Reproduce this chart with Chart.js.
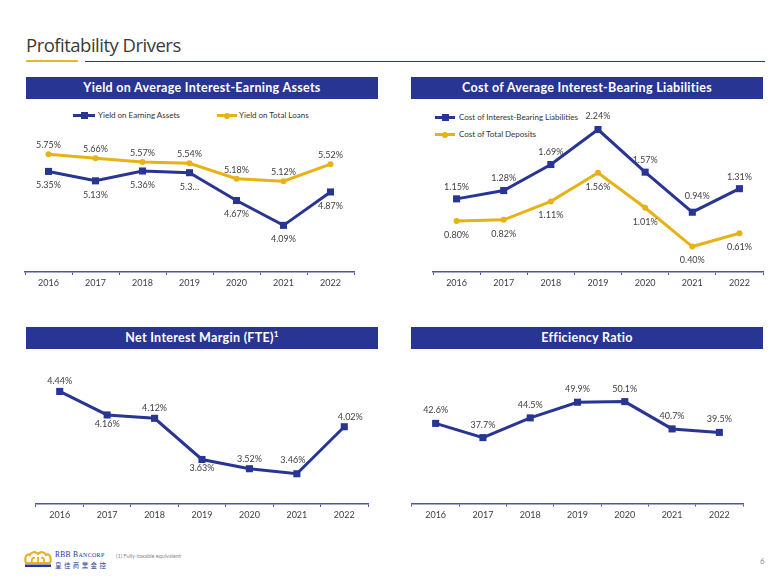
<!DOCTYPE html>
<html>
<head>
<meta charset="utf-8">
<script src="https://cdn.jsdelivr.net/npm/chart.js@4.4.1/dist/chart.umd.min.js"></script>
<style>
  html,body{margin:0;padding:0;background:#fff;}
  body{width:780px;height:585px;position:relative;overflow:hidden;font-family:Lato,"Open Sans",sans-serif;}
  .abs{position:absolute;}
  .title{left:26px;top:32px;font-family:"Open Sans",Lato,sans-serif;font-size:18.5px;color:#3a3a3a;letter-spacing:-0.5px;}
  .hdr{position:absolute;height:22px;background:#283593;color:#fff;font-weight:bold;font-size:12.5px;line-height:22px;text-align:center;font-family:Lato,sans-serif;letter-spacing:0.3px;}
  .hdr sup{font-size:8px;line-height:0;}
  .leg{position:absolute;font-size:8px;color:#333;font-family:Lato,sans-serif;white-space:nowrap;line-height:10px;}
  .leg .ln{position:absolute;height:3px;top:4px;}
  .leg .mk{position:absolute;}
  canvas{position:absolute;}
</style>
</head>
<body>
<div class="abs title">Profitability Drivers</div>
<div class="abs" style="left:26px;top:60px;width:52px;height:2px;background:#e6b62a;"></div>
<div class="abs" style="left:85px;top:60.5px;width:680px;height:1.5px;background:#283593;"></div>

<div class="hdr" style="left:26px;top:77px;width:352px;">Yield on Average Interest-Earning Assets</div>
<div class="hdr" style="left:411px;top:77px;width:352px;">Cost of Average Interest-Bearing Liabilities</div>
<div class="hdr" style="left:26px;top:327px;width:352px;">Net Interest Margin (FTE)<sup>1</sup></div>
<div class="hdr" style="left:411px;top:327px;width:352px;">Efficiency Ratio</div>

<!-- legends -->
<div class="leg" style="left:73px;top:110px;">
  <div class="ln" style="left:0;width:22px;background:#283593;"></div>
  <div class="mk" style="left:8px;top:2px;width:7px;height:7px;background:#283593;"></div>
  <span style="margin-left:25px;" id="lg1a"></span>
</div>
<div class="leg" style="left:217px;top:110px;">
  <div class="ln" style="left:0;width:20px;background:#e8b116;"></div>
  <div class="mk" style="left:7px;top:2.5px;width:6px;height:6px;border-radius:3px;background:#e8b116;"></div>
  <span style="margin-left:22px;" id="lg1b"></span>
</div>
<div class="leg" style="left:435px;top:112px;">
  <div class="ln" style="left:0;width:20px;background:#283593;"></div>
  <div class="mk" style="left:7px;top:2px;width:7px;height:7px;background:#283593;"></div>
  <span style="margin-left:24px;" id="lg2a"></span>
</div>
<div class="leg" style="left:435px;top:129px;">
  <div class="ln" style="left:0;width:20px;background:#e8b116;"></div>
  <div class="mk" style="left:7px;top:2.5px;width:6px;height:6px;border-radius:3px;background:#e8b116;"></div>
  <span style="margin-left:24px;" id="lg2b"></span>
</div>

<canvas id="c1" width="365" height="200" style="left:20px;top:100px;"></canvas>
<canvas id="c2" width="370" height="200" style="left:405px;top:100px;"></canvas>
<canvas id="c3" width="365" height="175" style="left:20px;top:355px;"></canvas>
<canvas id="c4" width="370" height="175" style="left:405px;top:355px;"></canvas>

<!-- footer -->
<svg class="abs" style="left:24px;top:551px;" width="28" height="17" viewBox="0 0 28 17">
  <path d="M2 12 C0 6,3 2,6 4 C7 1,11 0,14 3 C17 0,21 1,22 4 C25 2,28 6,26 12 Z" fill="none" stroke="#e6b21e" stroke-width="2.2"/>
  <path d="M8 12 C7 8,9 6,11 7 M20 12 C21 8,19 6,17 7 M14 12 L14 6" fill="none" stroke="#e6b21e" stroke-width="1.8"/>
  <rect x="1" y="13.5" width="26" height="2.5" fill="#283593"/>
</svg>
<div class="abs" style="left:55px;top:550px;font-family:'Liberation Serif',serif;font-size:7.5px;color:#283593;letter-spacing:0.3px;">RBB B<span style="font-size:6px;">ANCORP</span></div>
<div class="abs" style="left:55px;top:559.5px;font-family:'Noto Sans CJK TC',sans-serif;font-size:6.5px;color:#283593;letter-spacing:2.4px;">皇佳商業金控</div>
<div class="abs" style="left:116px;top:553px;font-size:5.5px;color:#8a8a8a;font-family:Lato,sans-serif;">(1) Fully-taxable equivalent</div>
<div class="abs" style="left:760px;top:556px;font-size:8px;color:#8a8a8a;font-family:Lato,sans-serif;">6</div>

<script>
// ---------------- DATA ----------------
const years = ['2016','2017','2018','2019','2020','2021','2022'];

const yieldEarningName = 'Yield on Earning Assets';
const yieldEarningAssets = [5.35, 5.13, 5.36, 5.32, 4.67, 4.09, 4.87];
const yieldEarningLabels = ['5.35%','5.13%','5.36%','5.3\u2026','4.67%','4.09%','4.87%'];
const yieldLoansName = 'Yield on Total Loans';
const yieldTotalLoans = [5.75, 5.66, 5.57, 5.54, 5.18, 5.12, 5.52];

const costLiabName = 'Cost of Interest-Bearing Liabilities';
const costLiabilities = [1.15, 1.28, 1.69, 2.24, 1.57, 0.94, 1.31];
const costDepName = 'Cost of Total Deposits';
const costDeposits = [0.80, 0.82, 1.11, 1.56, 1.01, 0.40, 0.61];

const nimName = 'Net Interest Margin (FTE)';
const netInterestMargin = [4.44, 4.16, 4.12, 3.63, 3.52, 3.46, 4.02];

const effName = 'Efficiency Ratio';
const efficiencyRatio = [42.6, 37.7, 44.5, 49.9, 50.1, 40.7, 39.5];

// ---------------- STYLE ----------------
const NAVY = '#283593';
const GOLD = '#e8b116';
const AXIS = '#4a56a3';
const TXT = '#404040';

document.getElementById('lg1a').textContent = yieldEarningName;
document.getElementById('lg1b').textContent = yieldLoansName;
document.getElementById('lg2a').textContent = costLiabName;
document.getElementById('lg2b').textContent = costDepName;

const pick = (v, j) => Array.isArray(v) ? v[j] : v;

const pointLabels = {
  id: 'pointLabels',
  afterDatasetsDraw(chart) {
    const ctx = chart.ctx;
    chart.data.datasets.forEach((ds, i) => {
      const meta = chart.getDatasetMeta(i);
      meta.data.forEach((pt, j) => {
        const pos = pick(ds.labelPos, j);
        const txt = ds.labelText ? ds.labelText[j] : ds.data[j].toFixed(ds.decimals) + '%';
        const dy = pos === 'above' ? -pick(ds.offAbove, j) : pick(ds.offBelow, j);
        const dx = pick(ds.offX || 0, j);
        ctx.save();
        ctx.font = '9px Lato';
        ctx.fillStyle = TXT;
        ctx.textAlign = 'center';
        ctx.textBaseline = 'middle';
        ctx.fillText(txt, pt.x + dx, pt.y + dy);
        ctx.restore();
      });
    });
  }
};

function navyDs(label, data, extra) {
  return Object.assign({
    label, data,
    borderColor: NAVY, backgroundColor: NAVY,
    borderWidth: 3, pointStyle: 'rect', pointRadius: 5,
    pointBorderWidth: 0, tension: 0, clip: false,
    decimals: 2, offAbove: 11, offBelow: 13, labelPos: 'above'
  }, extra || {});
}
function goldDs(label, data, extra) {
  return Object.assign({
    label, data,
    borderColor: GOLD, backgroundColor: GOLD,
    borderWidth: 3, pointStyle: 'circle', pointRadius: 3,
    pointBorderWidth: 0, tension: 0, clip: false,
    decimals: 2, offAbove: 9, offBelow: 14, labelPos: 'above'
  }, extra || {});
}

function makeChart(id, box, area, yMin, yMax, datasets) {
  const xH = 20;
  new Chart(document.getElementById(id), {
    type: 'line',
    data: { labels: years, datasets },
    options: {
      responsive: false,
      animation: false,
      events: [],
      layout: {
        padding: {
          left: area.l - box.x,
          right: box.x + box.w - area.r,
          top: area.t - box.y,
          bottom: box.y + box.h - area.b - xH
        }
      },
      plugins: { legend: { display: false }, tooltip: { enabled: false } },
      scales: {
        x: {
          type: 'category',
          offset: true,
          grid: { display: true, drawOnChartArea: false, drawTicks: true, tickLength: 3, color: AXIS, lineWidth: 1, offset: true },
          border: { display: true, color: AXIS, width: 1.5 },
          ticks: { font: { family: 'Lato', size: 9 }, color: TXT, padding: 3, maxRotation: 0, autoSkip: false },
          afterFit: s => { s.height = xH; }
        },
        y: { display: false, min: yMin, max: yMax }
      }
    },
    plugins: [pointLabels]
  });
}

makeChart('c1', {x: 20, y: 100, w: 365, h: 200}, {l: 25, r: 354, t: 143.6, b: 272}, 3, 6, [
  goldDs(yieldLoansName, yieldTotalLoans, {labelPos: 'above', offAbove: 9}),
  navyDs(yieldEarningName, yieldEarningAssets, {labelPos: 'below', offBelow: 14, labelText: yieldEarningLabels})
]);

makeChart('c2', {x: 405, y: 100, w: 370, h: 200}, {l: 433, r: 763, t: 113, b: 272}, 0, 2.5, [
  goldDs(costDepName, costDeposits, {labelPos: 'below', offBelow: 14}),
  navyDs(costLiabName, costLiabilities, {labelPos: 'above', offAbove: [12, 12, 12, 13, 12, 16, 12], offX: [0, 0, 0, 0, 0, 5, 0]})
]);

makeChart('c3', {x: 20, y: 355, w: 365, h: 175}, {l: 36, r: 368, t: 378, b: 504}, 3.1, 4.6, [
  navyDs(nimName, netInterestMargin, {labelPos: ['above','below','above','below','above','above','above'], offAbove: [10, 10, 10, 10, 10, 14, 10], offBelow: 9, offX: [0, 0, 0, 0, 0, -4, 6]})
]);

makeChart('c4', {x: 405, y: 355, w: 370, h: 175}, {l: 412, r: 743, t: 387.4, b: 503.5}, 15, 55, [
  navyDs(effName, efficiencyRatio, {decimals: 1, labelPos: 'above', offAbove: 13})
]);
</script>
</body>
</html>
